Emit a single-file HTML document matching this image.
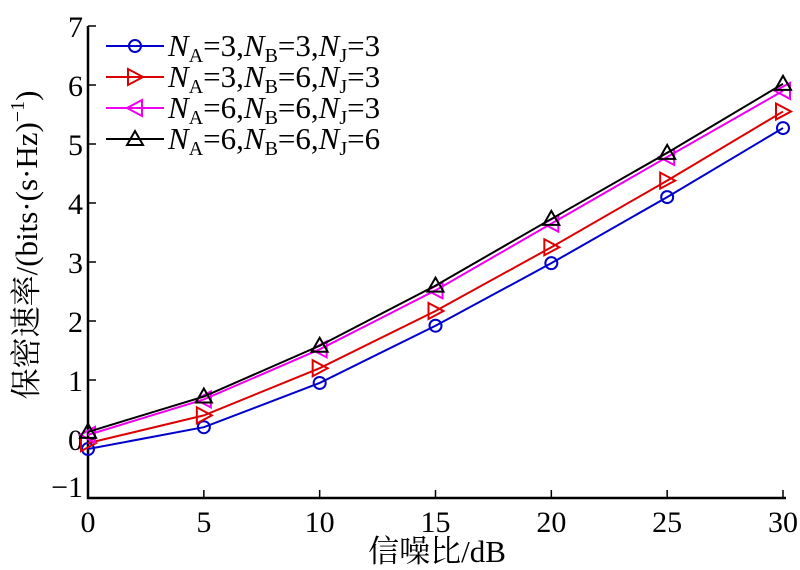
<!DOCTYPE html>
<html><head><meta charset="utf-8"><style>
body{margin:0;background:#fff;}
svg{display:block;font-family:"Liberation Serif","Noto Serif CJK SC",serif;}
svg text, svg tspan{font-family:"Liberation Serif","Noto Serif CJK SC",serif;}
</style></head><body>
<svg id="chart" width="800" height="570" viewBox="0 0 800 570"></svg>
<script>
const xValues=[0,5,10,15,20,25,30];
const seriesBlue=[-0.17,0.2,0.95,1.92,2.98,4.1,5.27];
const seriesRed=[-0.07,0.4,1.2,2.17,3.25,4.38,5.55];
const seriesMagenta=[0.07,0.67,1.52,2.52,3.65,4.78,5.9];
const seriesBlack=[0.12,0.72,1.58,2.6,3.73,4.85,6.02];
const xTicks=[0,5,10,15,20,25,30];
const yTicks=[-1,0,1,2,3,4,5,6,7];
const legendLabels=[["3","3","3"],["3","6","3"],["6","6","3"],["6","6","6"]];
const NS="http://www.w3.org/2000/svg";
const svg=document.getElementById('chart');
const X=v=>88+v*(783-88)/30;
const Y=v=>439-v*59;
function mk(t,a,p){const e=document.createElementNS(NS,t);for(const k in a)e.setAttribute(k,a[k]);(p||svg).appendChild(e);return e;}
let ax=mk('path',{d:`M88 ${Y(7)} V498 H786`,fill:'none',stroke:'#000','stroke-width':2.5});


xTicks.forEach(t=>{
  const l=mk('line',{x1:X(t),x2:X(t),y1:498,y2:490,stroke:'#000','stroke-width':1.5});
  
  
  const tx=mk('text',{x:X(t),y:532,'text-anchor':'middle','font-size':30});
  tx.textContent=t;
  
  
});
yTicks.forEach(t=>{
  const l=mk('line',{x1:88,x2:96,y1:Y(t),y2:Y(t),stroke:'#000','stroke-width':1.5});
  
  
  const tx=mk('text',{x:83,y:(t===-1?Y(t)-1:Y(t)+11),'text-anchor':'end','font-size':30});
  tx.textContent=t<0?'\u2212'+(-t):t;
  
  
});
let xt=mk('text',{x:437,y:562,'text-anchor':'middle','font-size':31});
xt.textContent='信噪比/dB';


let yt=mk('text',{x:0,y:0,'text-anchor':'middle','font-size':31,transform:'translate(37,245) rotate(-90)'});
yt.innerHTML='保密速率/(bits·(s·Hz)<tspan dy="-13" font-size="20">−1</tspan><tspan dy="13">)</tspan>';


function marker(type,x,y,c,g){
  const s=8;
  if(type==='o')return mk('circle',{cx:x,cy:y,r:6,fill:'none',stroke:c,'stroke-width':2},g);
  let pts;
  if(type==='>')pts=`${x-s+1},${y-s} ${x+s},${y} ${x-s+1},${y+s}`;
  if(type==='<')pts=`${x+s-1},${y-s} ${x-s},${y} ${x+s-1},${y+s}`;
  if(type==='^')pts=`${x-s},${y+s-2} ${x},${y-s} ${x+s},${y+s-2}`;
  return mk('polygon',{points:pts,fill:'none',stroke:c,'stroke-width':2},g);
}
const series=[[seriesBlue,'#0000cc','o','series-blue'],[seriesRed,'#dd0000','>','series-red'],[seriesMagenta,'#ee00ee','<','series-magenta'],[seriesBlack,'#000','^','series-black']];
series.forEach(([d,c,m,n],i)=>{
  const g=mk('g',{});
  
  
  mk('polyline',{points:d.map((v,j)=>X(xValues[j])+','+Y(v)).join(' '),fill:'none',stroke:c,'stroke-width':2},g);
  d.forEach((v,j)=>marker(m,X(xValues[j]),Y(v),c,g));
  const ly=46+i*31;
  const lg=mk('g',{});
  
  
  mk('line',{x1:106,x2:164,y1:ly,y2:ly,stroke:c,'stroke-width':2},lg);
  marker(m,135,ly,c,lg);
  const t=mk('text',{x:168,y:ly+10,'font-size':31},lg);
  const L=legendLabels[i];
  t.innerHTML=`<tspan font-style="italic">N</tspan><tspan dy="6" font-size="20">A</tspan><tspan dy="-6">=${L[0]},</tspan><tspan font-style="italic">N</tspan><tspan dy="6" font-size="20">B</tspan><tspan dy="-6">=${L[1]},</tspan><tspan font-style="italic">N</tspan><tspan dy="6" font-size="20">J</tspan><tspan dy="-6">=${L[2]}</tspan>`;
});
</script>
</body></html>
